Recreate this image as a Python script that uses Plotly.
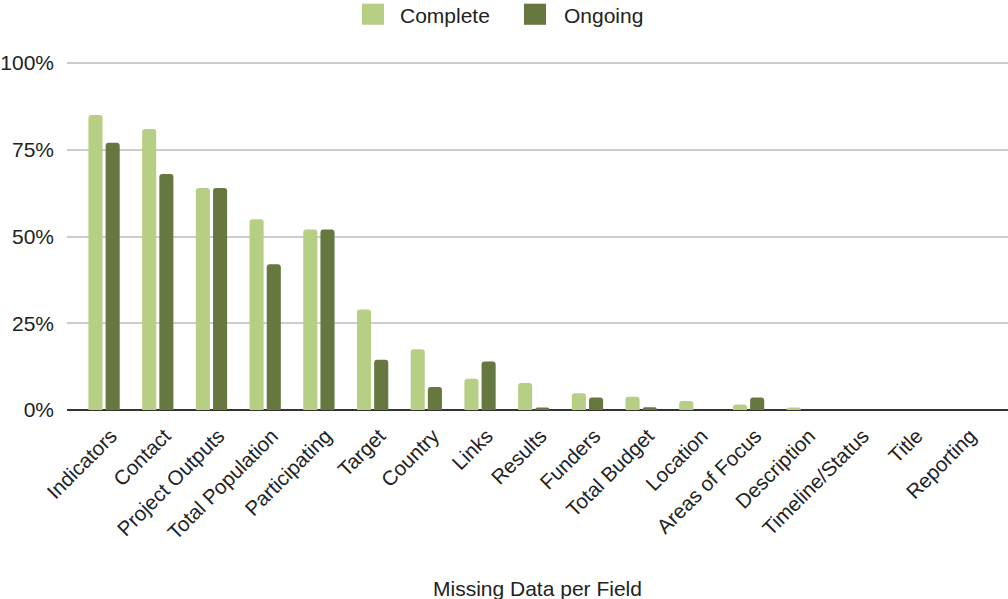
import plotly.graph_objects as go

fields = ["Indicators", "Contact", "Project Outputs", "Total Population", "Participating",
          "Target", "Country", "Links", "Results", "Funders", "Total Budget", "Location",
          "Areas of Focus", "Description", "Timeline/Status", "Title", "Reporting"]
complete = [85, 81, 64, 55, 52, 29, 17.5, 9, 7.8, 4.8, 3.8, 2.6, 1.6, 0.7, 0, 0, 0]
ongoing = [77, 68, 64, 42, 52, 14.5, 6.6, 14, 0.7, 3.6, 0.8, 0, 3.6, 0, 0, 0, 0]
series_names = ["Complete", "Ongoing"]
series_colors = ["#b7cf85", "#667740"]

tick_vals = [0, 25, 50, 75, 100]
tick_text = ["0%", "25%", "50%", "75%", "100%"]

FONT = "Liberation Sans, Arial, sans-serif"
TXT = "#222222"

fig = go.Figure()
for name, vals, col in zip(series_names, [complete, ongoing], series_colors):
    fig.add_trace(go.Bar(name=name, x=fields, y=vals, marker_color=col, marker_line_width=0))

# manual legend (larger swatches like the reference)
W, H = 1008, 599
legend_items = [(362, 398), (524, 562)]
shapes = []
annotations = []
for (sx, tx), name, col in zip(legend_items, series_names, series_colors):
    shapes.append(dict(type="rect", xref="paper", yref="paper",
                       x0=(sx - 67) / 941, x1=(sx + 22 - 67) / 941,
                       y0=(410 - 27) / 347, y1=(410 - 6) / 347,
                       fillcolor=col, line=dict(width=0)))
    annotations.append(dict(text=name, xref="paper", yref="paper",
                            x=(tx - 67) / 941, y=(410 - 17.5) / 347,
                            xanchor="left", yanchor="middle", showarrow=False,
                            font=dict(size=21, color=TXT)))

annotations.append(dict(text="Missing Data per Field", x=0.5, xref="paper",
                        y=-(587 - 410) / 347, yref="paper",
                        xanchor="center", yanchor="middle", showarrow=False,
                        font=dict(size=21, color=TXT)))

fig.update_layout(
    width=W, height=H,
    margin=dict(l=67, r=0, t=61, b=189),
    paper_bgcolor="white", plot_bgcolor="white",
    barmode="group", bargap=0.36, bargroupgap=0.18, barcornerradius=3,
    font=dict(family=FONT, size=21, color=TXT),
    showlegend=False,
    xaxis=dict(range=[-0.69, 16.83], tickangle=-45, tickfont=dict(size=20.5, color=TXT),
               showgrid=False, showline=False, zeroline=False, ticks="",
               ticklabelstandoff=9, ticklabelshift=7),
    yaxis=dict(range=[0, 100.6], tickvals=tick_vals, ticktext=tick_text,
               tickfont=dict(size=21, color=TXT),
               showgrid=True, gridcolor="#cccccc", gridwidth=2,
               zeroline=True, zerolinecolor="#333333", zerolinewidth=2,
               showline=False, ticks="", ticklabelstandoff=12),
    shapes=shapes,
    annotations=annotations,
)

fig.write_html("out.html")
